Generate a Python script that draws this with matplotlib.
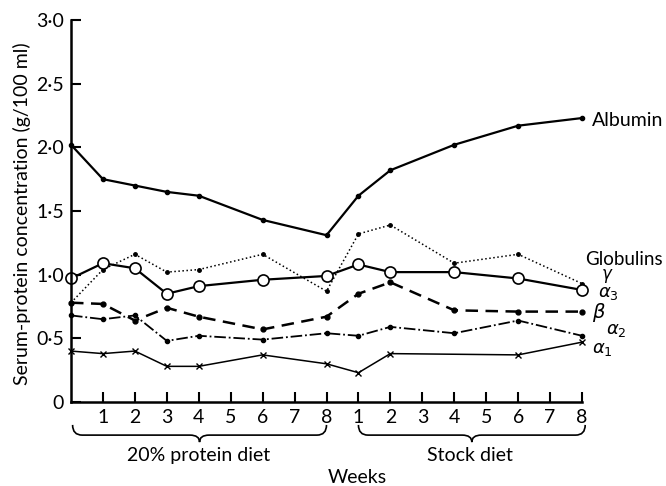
import matplotlib
matplotlib.use("Agg")
import matplotlib.pyplot as plt
from matplotlib.path import Path
from matplotlib.patches import PathPatch

plt.rcParams['font.family'] = ['Lato', 'DejaVu Sans']

# positions: 0..8 = 20% protein diet weeks, 9..16 = stock diet weeks 1..8
x_main = [0, 1, 2, 3, 4, 6, 8, 9, 10, 12, 14, 16]
albumin = [2.02, 1.75, 1.70, 1.65, 1.62, 1.43, 1.31, 1.62, 1.82, 2.02, 2.17, 2.23]
gamma = [0.78, 1.04, 1.16, 1.02, 1.04, 1.16, 0.87, 1.32, 1.39, 1.09, 1.16, 0.93]
alpha3 = [0.97, 1.09, 1.05, 0.85, 0.91, 0.96, 0.99, 1.08, 1.02, 1.02, 0.97, 0.88]
beta = [0.78, 0.77, 0.64, 0.74, 0.67, 0.57, 0.67, 0.85, 0.94, 0.72, 0.71, 0.71]
alpha2 = [0.68, 0.65, 0.68, 0.48, 0.52, 0.49, 0.54, 0.52, 0.59, 0.54, 0.64, 0.52]
x_alpha1 = [0, 1, 2, 3, 4, 6, 8, 9, 10, 14, 16]
alpha1 = [0.40, 0.38, 0.40, 0.28, 0.28, 0.37, 0.30, 0.23, 0.38, 0.37, 0.47]

tick_pos = list(range(1, 17))
tick_labels = ['1', '2', '3', '4', '5', '6', '7', '8', '1', '2', '3', '4', '5', '6', '7', '8']
y_ticks = [0, 0.5, 1.0, 1.5, 2.0, 2.5, 3.0]
y_tick_labels = ['0', '0·5', '1·0', '1·5', '2·0', '2·5', '3·0']

fig = plt.figure(figsize=(6.66, 4.86), dpi=100)
ax = fig.add_axes([71/666, 1 - 402/486, (582 - 71)/666, (402 - 20)/486])

k = dict(color='black', clip_on=False)
ax.plot(x_main, albumin, '-', lw=1.6, marker='o', ms=3, **k)
ax.plot(x_main, gamma, ':', lw=1.1, marker='o', ms=2.5, **k)
ax.plot(x_main, alpha3, '-', lw=1.6, marker='o', ms=8, mfc='white', mew=1.2, **k)
ax.plot(x_main, beta, '--', lw=1.8, marker='o', ms=3.5, dashes=(5, 3), **k)
ax.plot(x_main, alpha2, '-.', lw=1.3, marker='o', ms=3, **k)
ax.plot(x_alpha1, alpha1, '-', lw=1.1, marker='x', ms=4, mew=1, **k)

ax.set_xlim(0, 16)
ax.set_ylim(0, 3)
for s in ['top', 'right']:
    ax.spines[s].set_visible(False)
ax.spines['left'].set_linewidth(1.8)
ax.spines['bottom'].set_linewidth(1.8)
ax.set_xticks(tick_pos)
ax.set_xticklabels(tick_labels, fontsize=14)
ax.set_yticks(y_ticks)
ax.set_yticklabels(y_tick_labels, fontsize=14)
ax.tick_params(axis='both', direction='in', length=7, width=1.5, pad=5)
fig.text(22/666, 1 - 214/486, 'Serum-protein concentration (g/100 ml)', rotation=90,
         ha='center', va='center', fontsize=14)

def brace(x0, x1, yt=-0.18, ym=-0.26, yp=-0.315, r=0.3):
    xm = (x0 + x1) / 2
    verts = [(x0, yt), (x0, ym), (x0 + r, ym),
             (xm - r, ym), (xm, ym), (xm, yp),
             (xm, ym), (xm + r, ym),
             (x1 - r, ym), (x1, ym), (x1, yt)]
    codes = [Path.MOVETO, Path.CURVE3, Path.CURVE3,
             Path.LINETO, Path.CURVE3, Path.CURVE3,
             Path.CURVE3, Path.CURVE3,
             Path.LINETO, Path.CURVE3, Path.CURVE3]
    ax.add_patch(PathPatch(Path(verts, codes), fill=False, lw=1.2,
                           color='black', clip_on=False))

brace(0.05, 8.0)
brace(9.0, 16.1)
ax.text(4.0, -0.42, '20% protein diet', ha='center', va='center', fontsize=14, clip_on=False)
ax.text(12.5, -0.42, 'Stock diet', ha='center', va='center', fontsize=14, clip_on=False)
ax.text(8.95, -0.59, 'Weeks', ha='center', va='center', fontsize=14, clip_on=False)

ax.text(16.3, 2.21, 'Albumin', ha='left', va='center', fontsize=14, clip_on=False)
ax.text(16.1, 1.12, 'Globulins', ha='left', va='center', fontsize=13.5, clip_on=False)
ax.text(16.6, 0.99, r'$\gamma$', ha='left', va='center', fontsize=12, clip_on=False)
ax.text(16.5, 0.85, r'$\alpha_3$', ha='left', va='center', fontsize=13, clip_on=False)
ax.text(16.3, 0.70, r'$\beta$', ha='left', va='center', fontsize=14, clip_on=False)
ax.text(16.75, 0.56, r'$\alpha_2$', ha='left', va='center', fontsize=13, clip_on=False)
ax.text(16.3, 0.41, r'$\alpha_1$', ha='left', va='center', fontsize=13, clip_on=False)

fig.savefig('out.png', dpi=100)
